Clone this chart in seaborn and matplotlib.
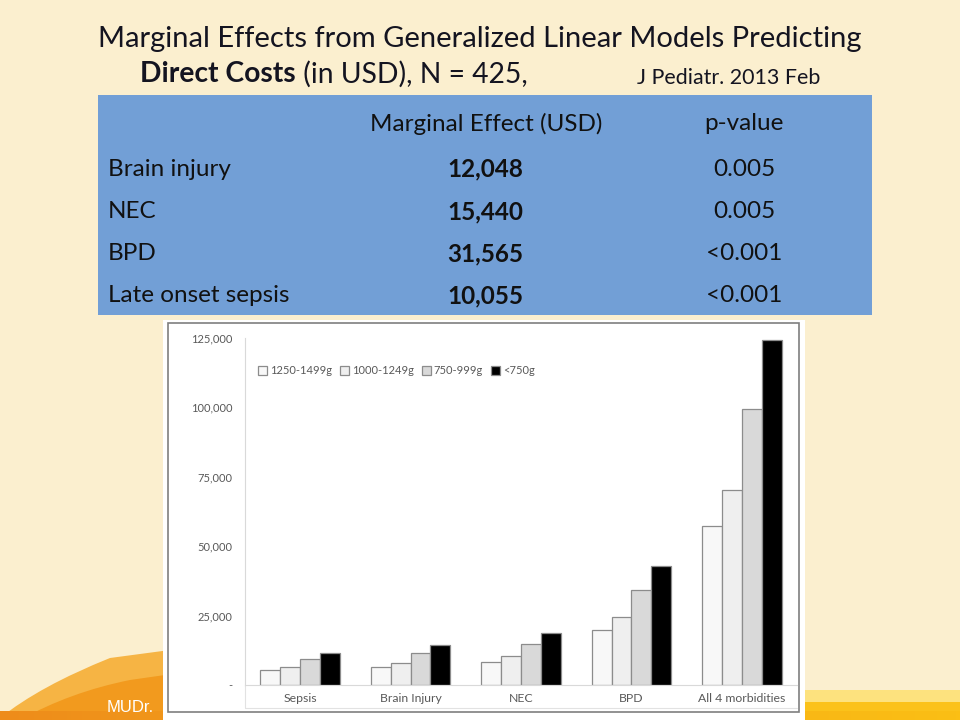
import numpy as np
import pandas as pd
import matplotlib
matplotlib.use('Agg')
import matplotlib.pyplot as plt
import seaborn as sns
from matplotlib.patches import Rectangle, PathPatch
from matplotlib.path import Path
from matplotlib.ticker import FuncFormatter

# table data
table_rows = ['Brain injury', 'NEC', 'BPD', 'Late onset sepsis']
marginal_effect = ['12,048', '15,440', '31,565', '10,055']
p_values = ['0.005', '0.005', '<0.001', '<0.001']

# bar chart data (costs in USD)
morbidities = ['Sepsis', 'Brain Injury', 'NEC', 'BPD', 'All 4 morbidities']
weight_groups = ['1250-1499g', '1000-1249g', '750-999g', '<750g']
cost_1250_1499 = [5300, 6500, 8400, 19700, 57300]
cost_1000_1249 = [6500, 8100, 10500, 24500, 70400]
cost_750_999 = [9200, 11400, 14900, 34300, 99400]
cost_lt750 = [11700, 14400, 18700, 43000, 124300]

df = pd.DataFrame({
    'morbidity': morbidities * 4,
    'weight': np.repeat(weight_groups, len(morbidities)),
    'cost': cost_1250_1499 + cost_1000_1249 + cost_750_999 + cost_lt750,
})

sns.set_theme(style='white')
plt.rcParams['font.family'] = ['Lato', 'DejaVu Sans']

fig = plt.figure(figsize=(9.6, 7.2), dpi=100)
fig.patch.set_facecolor('#fbefcf')

# background layer in pixel coordinates
bg = fig.add_axes([0, 0, 1, 1])
bg.set_xlim(0, 960)
bg.set_ylim(720, 0)
bg.axis('off')
bg.set_zorder(0)

# orange swoosh bottom left
light = Path([(0, 718), (40, 686), (110, 658), (200, 646), (200, 720), (0, 720)],
             [Path.MOVETO, Path.CURVE3, Path.CURVE3, Path.LINETO, Path.LINETO, Path.CLOSEPOLY])
bg.add_patch(PathPatch(light, facecolor='#f6b444', edgecolor='none'))
dark = Path([(20, 720), (70, 692), (130, 680), (200, 670), (200, 720), (20, 720)],
            [Path.MOVETO, Path.CURVE3, Path.CURVE3, Path.LINETO, Path.LINETO, Path.CLOSEPOLY])
bg.add_patch(PathPatch(dark, facecolor='#f29a1e', edgecolor='none'))
# yellow band bottom right
bg.add_patch(Rectangle((790, 690), 170, 30, facecolor='#fde27e', edgecolor='none'))
bg.add_patch(Rectangle((790, 702), 170, 18, facecolor='#fbc21a', edgecolor='none'))
# bottom strip gradient orange -> yellow
grad = np.linspace(0, 1, 256).reshape(1, -1)
cmap = matplotlib.colors.LinearSegmentedColormap.from_list('strip', ['#ee8c1a', '#f5a91a', '#fbbf14'])
bg.imshow(grad, extent=(0, 960, 720, 711), aspect='auto', cmap=cmap, zorder=1)
bg.set_xlim(0, 960)
bg.set_ylim(720, 0)

bg.text(107, 707, 'MUDr.', color='white', fontsize=12, family='Liberation Sans',
        va='center', ha='left', zorder=2)

# titles
title_color = '#141420'
bg.text(480, 37, 'Marginal Effects from Generalized Linear Models Predicting',
        fontsize=21, color=title_color, ha='center', va='center_baseline')
t1 = bg.text(140, 72, 'Direct Costs', fontsize=20.3, fontweight='bold',
             color=title_color, ha='left', va='center_baseline')
bg.annotate(' (in USD), N = 425,', xy=(1, 0), xycoords=t1, fontsize=20.3,
            color=title_color, ha='left', va='bottom')
bg.text(637, 76, 'J Pediatr. 2013 Feb', fontsize=15.4, color=title_color,
        ha='left', va='center_baseline')

# blue table
tfs = 17.5
bg.add_patch(Rectangle((98, 95), 774, 220, facecolor='#729fd6', edgecolor='none', zorder=1))
bg.text(486, 122, 'Marginal Effect (USD)', fontsize=tfs, color='#111111', ha='center',
        va='center_baseline', zorder=2)
bg.text(744, 122, 'p-value', fontsize=tfs, color='#111111', ha='center',
        va='center_baseline', zorder=2)
row_y = [167, 210, 252, 294]
for y, name, eff, p in zip(row_y, table_rows, marginal_effect, p_values):
    bg.text(108, y, name, fontsize=tfs, color='#111111', ha='left', va='center_baseline', zorder=2)
    bg.text(485, y, eff, fontsize=tfs, fontweight='bold', color='#111111', ha='center',
            va='center_baseline', zorder=2)
    bg.text(744, y, p, fontsize=tfs, color='#111111', ha='center', va='center_baseline', zorder=2)

# chart image frame
bg.add_patch(Rectangle((163, 320), 642, 400, facecolor='white', edgecolor='none', zorder=3))
bg.add_patch(Rectangle((168, 323), 631, 389, facecolor='none', edgecolor='#7f7f7f', lw=1.2, zorder=4))
bg.plot([245, 797], [708, 708], color='#e2e2e2', lw=0.8, zorder=4)
bg.plot([245, 245], [685, 708], color='#e2e2e2', lw=0.8, zorder=4)

# bar chart
ax = fig.add_axes([245 / 960, 1 - 685 / 720, 552 / 960, 347 / 720])
ax.set_zorder(2)
ax.patch.set_alpha(0)
palette = ['#f8f8f8', '#efefef', '#d9d9d9', '#000000']
sns.barplot(data=df, x='morbidity', y='cost', hue='weight', palette=palette,
            edgecolor='#8c8c8c', linewidth=0.9, width=0.72, ax=ax)
ax.set_xlim(-0.5, 4.5)
ax.set_ylim(0, 125000)
ax.set_yticks(range(0, 125001, 25000))
ax.yaxis.set_major_formatter(FuncFormatter(lambda v, pos: '-' if v == 0 else f'{int(v):,}'))
ax.set_xlabel('')
ax.set_ylabel('')
ax.tick_params(axis='y', colors='#595959', labelsize=8, length=0, pad=9)
ax.tick_params(axis='x', colors='#595959', labelsize=8.8, length=0, pad=6)
for side in ['top', 'right']:
    ax.spines[side].set_visible(False)
for side in ['left', 'bottom']:
    ax.spines[side].set_color('#d9d9d9')
    ax.spines[side].set_linewidth(0.8)

handles, labels = ax.get_legend_handles_labels()
leg = ax.legend(handles, labels, ncol=4, loc='center left', bbox_to_anchor=(0.005, 0.905),
                frameon=False, fontsize=8, handlelength=0.8, handleheight=0.8,
                handletextpad=0.3, columnspacing=0.7)
for txt in leg.get_texts():
    txt.set_color('#595959')

fig.savefig('out.png', dpi=100, facecolor=fig.get_facecolor())
plt.close(fig)
